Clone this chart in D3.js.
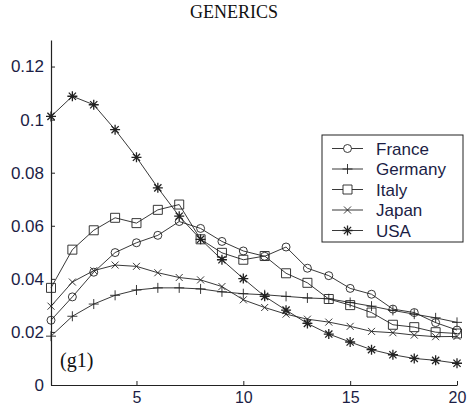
<!DOCTYPE html>
<html>
<head>
<meta charset="utf-8">
<script src="https://cdn.jsdelivr.net/npm/d3@7"></script>
<style>
  body { margin: 0; background: #fff; }
  svg { display: block; }
</style>
</head>
<body>
<div id="chart"></div>
<script>
// Periods on the x axis
const periods = d3.range(1, 21);

// Series values
const france  = [0.0244, 0.0332, 0.0425, 0.0499, 0.0536, 0.0564, 0.0616, 0.0590, 0.0541, 0.0505,
                 0.0485, 0.0520, 0.0440, 0.0412, 0.0364, 0.0342, 0.0286, 0.0273, 0.0235, 0.0207];
const germany = [0.0184, 0.0259, 0.0305, 0.0338, 0.0358, 0.0366, 0.0366, 0.0362, 0.0351, 0.0344,
                 0.0340, 0.0334, 0.0328, 0.0325, 0.0311, 0.0297, 0.0281, 0.0267, 0.0253, 0.0236];
const italy   = [0.0366, 0.0510, 0.0583, 0.0630, 0.0610, 0.0660, 0.0680, 0.0549, 0.0498, 0.0472,
                 0.0486, 0.0421, 0.0385, 0.0324, 0.0301, 0.0273, 0.0227, 0.0218, 0.0199, 0.0194];
const japan   = [0.0297, 0.0388, 0.0431, 0.0452, 0.0447, 0.0423, 0.0405, 0.0396, 0.0371, 0.0321,
                 0.0292, 0.0267, 0.0248, 0.0237, 0.0221, 0.0202, 0.0197, 0.0188, 0.0182, 0.0183];
const usa     = [0.1012, 0.1088, 0.1056, 0.0962, 0.0858, 0.0743, 0.0636, 0.0549, 0.0472, 0.0401,
                 0.0334, 0.0282, 0.0232, 0.0192, 0.0162, 0.0133, 0.0114, 0.0100, 0.0093, 0.0082];

const seriesNames = ['France', 'Germany', 'Italy', 'Japan', 'USA'];
const seriesMarkers = ['circle', 'plus', 'square', 'cross', 'star'];
const yTicks = [0, 0.02, 0.04, 0.06, 0.08, 0.1, 0.12];
const xTicks = [5, 10, 15, 20];

const series = [france, germany, italy, japan, usa].map((values, i) => ({
  name: seriesNames[i],
  marker: seriesMarkers[i],
  values: values.map((v, j) => ({ x: periods[j], y: v }))
}));

const width = 468;
const height = 408;
const margin = { top: 40, right: 11, bottom: 23, left: 51 };

const svg = d3.select('#chart')
  .append('svg')
  .attr('width', width)
  .attr('height', height);

const x = d3.scaleLinear().domain([1, 20]).range([margin.left, width - margin.right]);
const y = d3.scaleLinear().domain([0, 0.13]).range([height - margin.bottom, margin.top]);

const ink = '#222';
const labelColor = '#1b1d45';

// Marker path generator (stroked, unfilled like the original)
function markerPath(type) {
  const p = d3.path();
  if (type === 'circle') {
    p.moveTo(4, 0);
    p.arc(0, 0, 4, 0, 2 * Math.PI);
  } else if (type === 'square') {
    p.rect(-4.5, -4.5, 9, 9);
  } else if (type === 'plus') {
    p.moveTo(-5, 0); p.lineTo(5, 0);
    p.moveTo(0, -5); p.lineTo(0, 5);
  } else if (type === 'cross') {
    p.moveTo(-3.5, -3.5); p.lineTo(3.5, 3.5);
    p.moveTo(-3.5, 3.5); p.lineTo(3.5, -3.5);
  } else if (type === 'star') {
    p.moveTo(-5, 0); p.lineTo(5, 0);
    p.moveTo(0, -5); p.lineTo(0, 5);
    p.moveTo(-3.6, -3.6); p.lineTo(3.6, 3.6);
    p.moveTo(-3.6, 3.6); p.lineTo(3.6, -3.6);
  }
  return p.toString();
}

// Title
svg.append('text')
  .attr('x', 234)
  .attr('y', 18)
  .attr('text-anchor', 'middle')
  .style('font-family', '"Liberation Serif", "Times New Roman", serif')
  .style('font-size', '18px')
  .style('fill', '#111')
  .text('GENERICS');

// Axes (MATLAB style: inward ticks, only left and bottom lines)
const xAxis = svg.append('g')
  .attr('transform', `translate(0, ${y(0)})`)
  .call(d3.axisBottom(x).tickValues(xTicks).tickSizeInner(-4).tickSizeOuter(0));

const yAxis = svg.append('g')
  .attr('transform', `translate(${x(1)}, 0)`)
  .call(d3.axisLeft(y).tickValues(yTicks).tickFormat(d => d === 0 ? '0' : String(+d.toFixed(2)))
    .tickSizeInner(-4).tickSizeOuter(0).tickPadding(7));

[xAxis, yAxis].forEach(ax => {
  ax.select('.domain').attr('stroke', ink).attr('stroke-width', 1.2);
  ax.selectAll('.tick line').attr('stroke', ink);
  ax.selectAll('.tick text')
    .style('font-family', '"Liberation Sans", Arial, sans-serif')
    .style('font-size', '17px')
    .style('fill', labelColor);
});
// keep x tick labels inside the bottom edge
xAxis.selectAll('.tick text')
  .attr('y', 18)
  .attr('dy', null)
  .style('font-size', '16px');

// Lines and markers
const line = d3.line().x(d => x(d.x)).y(d => y(d.y));

const groups = svg.selectAll('.series')
  .data(series)
  .enter()
  .append('g')
  .attr('class', 'series');

groups.append('path')
  .attr('d', d => line(d.values))
  .attr('fill', 'none')
  .attr('stroke', ink)
  .attr('stroke-width', 0.9);

groups.each(function(s) {
  d3.select(this).selectAll('.mk')
    .data(s.values)
    .enter()
    .append('path')
    .attr('class', 'mk')
    .attr('transform', d => `translate(${x(d.x)}, ${y(d.y)})`)
    .attr('d', markerPath(s.marker))
    .attr('fill', 'none')
    .attr('stroke', ink)
    .attr('stroke-width', s.marker === 'star' ? 1.3 : 0.9);
});

// Panel label
svg.append('text')
  .attr('x', 60)
  .attr('y', 367)
  .style('font-family', '"Liberation Serif", "Times New Roman", serif')
  .style('font-size', '20px')
  .style('fill', '#111')
  .text('(g1)');

// Legend
const legendBox = { x: 322, y: 135, w: 141, h: 107 };
svg.append('rect')
  .attr('x', legendBox.x)
  .attr('y', legendBox.y)
  .attr('width', legendBox.w)
  .attr('height', legendBox.h)
  .attr('fill', '#fff')
  .attr('stroke', ink)
  .attr('stroke-width', 1);

const legend = svg.selectAll('.legend')
  .data(series)
  .enter()
  .append('g')
  .attr('class', 'legend')
  .attr('transform', (d, i) => `translate(${legendBox.x}, ${legendBox.y + 13.5 + i * 20.5})`);

legend.append('line')
  .attr('x1', 10)
  .attr('x2', 41)
  .attr('stroke', ink)
  .attr('stroke-width', 0.9);

legend.append('path')
  .attr('transform', 'translate(25.5, 0)')
  .attr('d', d => markerPath(d.marker))
  .attr('fill', d => d.marker === 'circle' || d.marker === 'square' ? '#fff' : 'none')
  .attr('stroke', ink)
  .attr('stroke-width', d => d.marker === 'star' ? 1.3 : 0.9);

legend.append('text')
  .attr('x', 54)
  .attr('y', 6)
  .style('font-family', '"Liberation Sans", Arial, sans-serif')
  .style('font-size', '17px')
  .style('fill', labelColor)
  .text(d => d.name);
</script>
</body>
</html>
